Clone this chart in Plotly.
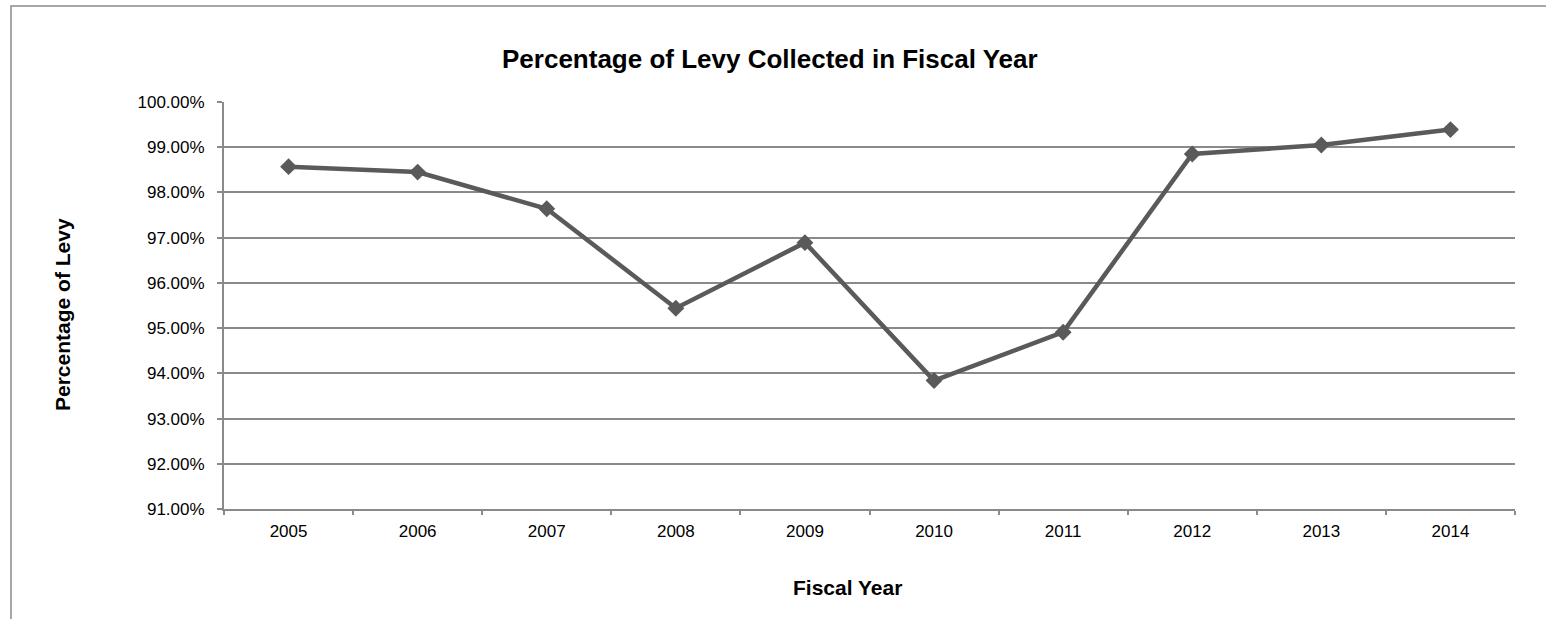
import plotly.graph_objects as go

# Fiscal years and share of the levy collected in each year (percent)
years = ["2005", "2006", "2007", "2008", "2009", "2010", "2011", "2012", "2013", "2014"]
pct_collected = [98.57, 98.45, 97.64, 95.44, 96.89, 93.84, 94.91, 98.85, 99.05, 99.39]

title_text = "Percentage of Levy Collected in Fiscal Year"
x_title = "Fiscal Year"
y_title = "Percentage of Levy"

W, H = 1546, 619
ML, MR, MT, MB = 224, 31, 102, 110
plot_w = W - ML - MR
plot_h = H - MT - MB


def px_x(px):
    return (px - ML) / plot_w


def px_y(py):
    return (H - MB - py) / plot_h


FONT = "Liberation Sans, Arial, sans-serif"
GRID = "#8a8a8a"
LINE = "#5a5a5a"

fig = go.Figure()
fig.add_trace(
    go.Scatter(
        x=years,
        y=pct_collected,
        mode="lines+markers",
        line=dict(color=LINE, width=4.5),
        marker=dict(symbol="diamond", size=13, color=LINE),
        showlegend=False,
        hoverinfo="x+y",
    )
)

fig.update_layout(
    width=W,
    height=H,
    margin=dict(l=ML, r=MR, t=MT, b=MB, pad=0),
    paper_bgcolor="white",
    plot_bgcolor="white",
    font=dict(family=FONT, color="#000000", size=17),
    xaxis=dict(
        type="category",
        range=[-0.5, len(years) - 0.5],
        tickson="boundaries",
        ticks="outside",
        ticklen=4,
        tickcolor=GRID,
        tickwidth=1.5,
        showline=True,
        linecolor=GRID,
        linewidth=2,
        showgrid=False,
        tickfont=dict(size=17, family=FONT, color="#000000"),
        ticklabelstandoff=6,
        fixedrange=True,
    ),
    yaxis=dict(
        range=[91, 100],
        dtick=1,
        tick0=91,
        tickformat=".2f",
        ticksuffix="%",
        ticks="outside",
        ticklen=5,
        tickcolor=GRID,
        tickwidth=1.5,
        showline=True,
        linecolor=GRID,
        linewidth=2,
        showgrid=True,
        gridcolor=GRID,
        gridwidth=1.5,
        zeroline=False,
        tickfont=dict(size=17, family=FONT, color="#000000"),
        ticklabelstandoff=9,
        fixedrange=True,
    ),
    shapes=[
        dict(
            type="rect",
            xref="paper",
            yref="paper",
            x0=px_x(11),
            x1=px_x(W + 20),
            y0=px_y(H + 20),
            y1=px_y(6),
            line=dict(color=GRID, width=1.5),
            fillcolor="rgba(0,0,0,0)",
            layer="below",
        )
    ],
    annotations=[
        dict(
            text="<b>" + title_text + "</b>",
            xref="paper",
            yref="paper",
            x=px_x(770),
            y=px_y(59),
            xanchor="center",
            yanchor="middle",
            showarrow=False,
            font=dict(size=26, family=FONT, color="#000000"),
        ),
        dict(
            text="<b>" + x_title + "</b>",
            xref="paper",
            yref="paper",
            x=px_x(847),
            y=px_y(587),
            xanchor="center",
            yanchor="middle",
            showarrow=False,
            font=dict(size=21, family=FONT, color="#000000"),
        ),
        dict(
            text="<b>" + y_title + "</b>",
            xref="paper",
            yref="paper",
            x=px_x(62),
            y=px_y(315),
            xanchor="center",
            yanchor="middle",
            textangle=-90,
            showarrow=False,
            font=dict(size=21, family=FONT, color="#000000"),
        ),
    ],
)

fig.write_html("out.html", config={"displayModeBar": False})
